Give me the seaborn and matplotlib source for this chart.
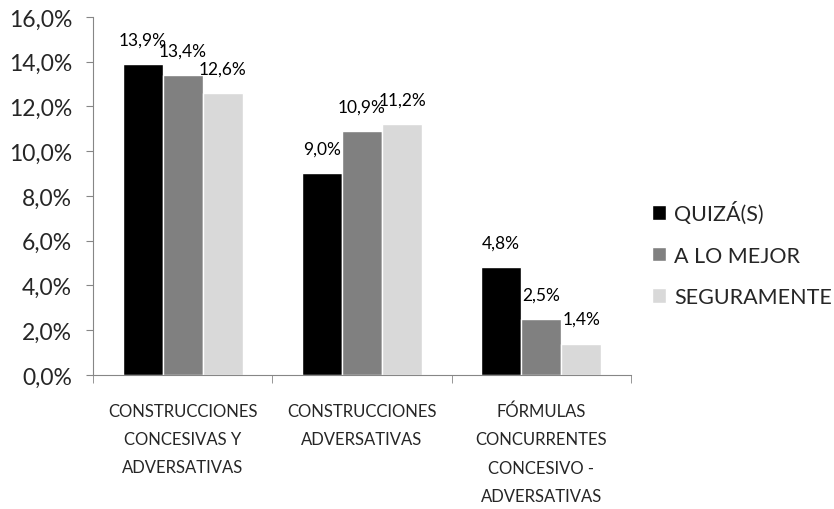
import matplotlib.pyplot as plt
import pandas as pd
import seaborn as sns
from matplotlib.ticker import FuncFormatter, FixedLocator

categories = [
    "CONSTRUCCIONES\nCONCESIVAS Y\nADVERSATIVAS",
    "CONSTRUCCIONES\nADVERSATIVAS",
    "FÓRMULAS\nCONCURRENTES\nCONCESIVO -\nADVERSATIVAS",
]
series = ["QUIZÁ(S)", "A LO MEJOR", "SEGURAMENTE"]
quiza = [13.9, 9.0, 4.8]
a_lo_mejor = [13.4, 10.9, 2.5]
seguramente = [12.6, 11.2, 1.4]
colors = ["#000000", "#808080", "#d9d9d9"]

df = pd.DataFrame({
    "categoria": categories * 3,
    "serie": [s for s in series for _ in categories],
    "valor": quiza + a_lo_mejor + seguramente,
})

sns.set_style("white")
plt.rcParams["font.family"] = ["Lato", "DejaVu Sans"]

fig = plt.figure(figsize=(8.34, 5.10), dpi=100)
ax = fig.add_axes([0.1115, 0.263, 0.645, 0.702])

sns.barplot(data=df, x="categoria", y="valor", hue="serie", hue_order=series,
            palette=colors, width=0.67, saturation=1, ax=ax, legend=True)

for cont in ax.containers:
    ax.bar_label(cont, labels=[f"{v:.1f}%".replace(".", ",") for v in cont.datavalues],
                 padding=12, fontsize=12.5, color="#000000")

ax.set_ylim(0, 16)
ax.set_yticks(range(0, 17, 2))
ax.yaxis.set_major_formatter(FuncFormatter(lambda v, p: f"{v:.1f}%".replace(".", ",")))
ax.tick_params(axis="y", labelsize=16.5, length=5, color="#868686", direction="out", left=True, pad=10)
ax.set_xlim(-0.5, 2.5)
ax.tick_params(axis="x", which="major", length=0, labelsize=12, pad=20)
ax.xaxis.set_minor_locator(FixedLocator([-0.5, 0.5, 1.5, 2.5]))
ax.tick_params(axis="x", which="minor", length=6, color="#868686", bottom=True, direction="out")
for lab in ax.get_xticklabels():
    lab.set_linespacing(1.95)
ax.set_xlabel("")
ax.set_ylabel("")

for side in ["top", "right"]:
    ax.spines[side].set_visible(False)
for side in ["left", "bottom"]:
    ax.spines[side].set_color("#868686")

ax.legend(loc="center left", bbox_to_anchor=(0.759, 0.50), bbox_transform=fig.transFigure,
          frameon=False, fontsize=15.5, labelspacing=1.0, handlelength=0.65, handleheight=0.65,
          handletextpad=0.35)

fig.savefig("out.png", dpi=100)
